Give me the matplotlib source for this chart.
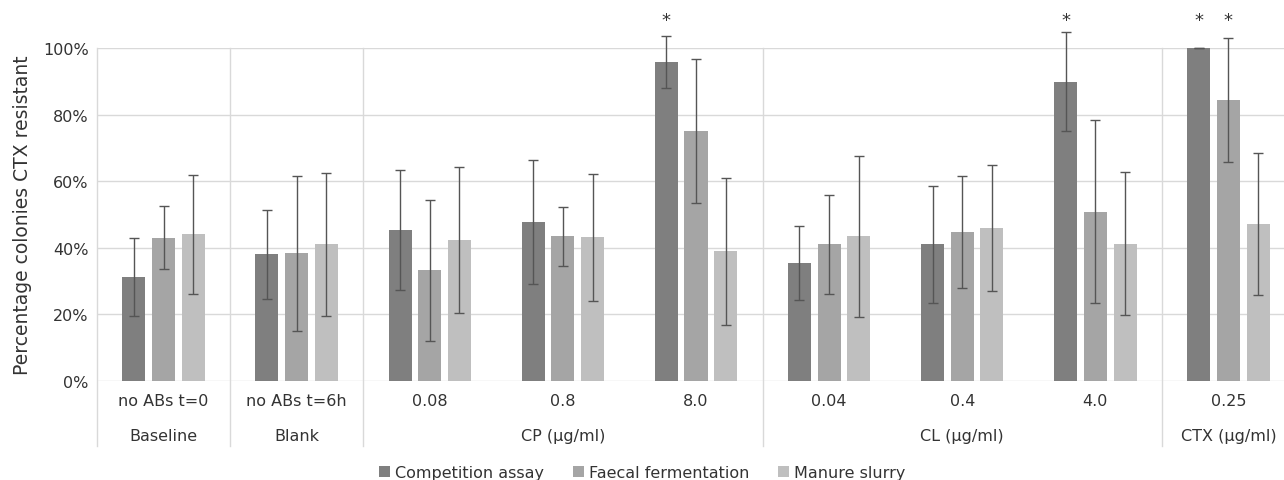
import matplotlib as mpl
import matplotlib.pyplot as plt
import numpy as np
from matplotlib.ticker import PercentFormatter
from matplotlib.transforms import blended_transform_factory
mpl.use('Agg')

categories = ['no ABs t=0', 'no ABs t=6h', '0.08', '0.8', '8.0', '0.04', '0.4', '4.0', '0.25']
groups = ['Baseline', 'Blank', 'CP (µg/ml)', 'CL (µg/ml)', 'CTX (µg/ml)']
group_sizes = [1, 1, 3, 3, 1]
series = ['Competition assay', 'Faecal fermentation', 'Manure slurry']

competition = [31.1, 38.0, 45.3, 47.7, 95.8, 35.5, 41.0, 89.9, 100.0]
competition_err = [11.7, 13.4, 18.0, 18.7, 7.7, 11.1, 17.5, 14.8, 0.0]
faecal = [43.0, 38.3, 33.3, 43.4, 75.1, 41.0, 44.8, 50.9, 84.3]
faecal_err = [9.5, 23.3, 21.2, 9.0, 21.6, 14.8, 16.9, 27.4, 18.6]
manure = [44.0, 41.0, 42.3, 43.1, 38.9, 43.4, 45.9, 41.2, 47.2]
manure_err = [18.0, 21.6, 21.9, 19.1, 22.0, 24.2, 19.0, 21.5, 21.4]

# significance stars: (category index, series index)
stars = [(4, 0), (7, 0), (8, 0), (8, 1)]

colors = ['#7f7f7f', '#a5a5a5', '#bfbfbf']
values = [competition, faecal, manure]
errors = [competition_err, faecal_err, manure_err]

fig = plt.figure(figsize=(12.84, 4.81), dpi=100)
ax = fig.add_axes([97/1284, 1-382/481, 1198/1284, 333/481])

x = np.arange(len(categories))
w = 0.173
step = 0.223
for i in range(3):
    xs = x + (i-1)*step
    ax.bar(xs, np.array(values[i])/100, w, color=colors[i], label=series[i], zorder=2)
    eb = ax.errorbar(xs, np.array(values[i])/100, yerr=np.array(errors[i])/100, fmt='none',
                     ecolor='#555555', elinewidth=1, capsize=3.5, capthick=1, zorder=3)
    for art in eb.lines[1] + eb.lines[2]:
        art.set_clip_on(False)

for c, s in stars:
    ax.text(c + (s-1)*step, 1.085, '*', ha='center', va='center', fontsize=13, color='#333333')

ax.set_xlim(-0.5, len(categories)-0.5)
ax.set_ylim(0, 1)
ax.set_yticks(np.arange(0, 1.01, 0.2))
ax.yaxis.set_major_formatter(PercentFormatter(1.0, decimals=0))
ax.grid(axis='y', color='#d9d9d9', linewidth=1, zorder=0)
ax.set_axisbelow(True)
for sp in ax.spines.values():
    sp.set_visible(False)
ax.tick_params(length=0, labelsize=11.5, labelcolor='#333333')
ax.tick_params(axis='x', pad=9)
ax.tick_params(axis='y', pad=6)
ax.set_xticks(x)
ax.set_xticklabels(categories)
ax.set_ylabel('Percentage colonies CTX resistant', fontsize=13.5, color='#333333', labelpad=8)

# group separators and labels
trans = blended_transform_factory(ax.transData, ax.transAxes)
edges = np.concatenate([[0], np.cumsum(group_sizes)]) - 0.5
for e in edges:
    ax.plot([e, e], [1, -0.195], color='#d9d9d9', linewidth=1, transform=trans, clip_on=False, zorder=1)
for g, a, b in zip(groups, edges[:-1], edges[1:]):
    ax.text((a+b)/2, -0.165, g, ha='center', va='center', fontsize=11.5, color='#333333', transform=trans)

leg = fig.legend(loc='lower center', bbox_to_anchor=(0.5, -0.03), ncol=3, frameon=False,
                 fontsize=11.5, handlelength=0.7, handleheight=0.7, handletextpad=0.3, columnspacing=1.8)
for t in leg.get_texts():
    t.set_color('#333333')

plt.savefig('out.png')
